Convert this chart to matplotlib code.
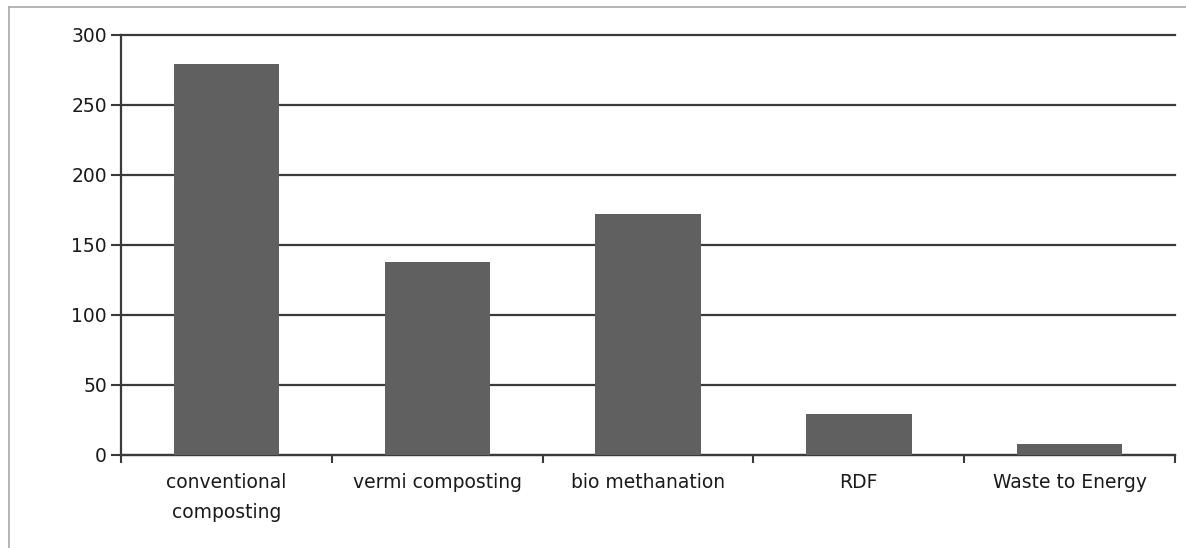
import matplotlib.pyplot as plt
from matplotlib.lines import Line2D

categories = ["conventional\ncomposting", "vermi composting", "bio methanation",
              "RDF", "Waste to Energy"]
values = [279, 138, 172, 29, 8]
yticks = [0, 50, 100, 150, 200, 250, 300]

plt.rcParams['font.family'] = ['DejaVu Sans']

fig = plt.figure(figsize=(11.86, 5.48), dpi=100)
ax = fig.add_axes([121 / 1186, 1 - 455 / 548, (1175 - 121) / 1186, (455 - 35) / 548])

x = list(range(len(categories)))
ax.bar(x, values, width=0.5, color="#606060", zorder=3)

ax.set_xlim(-0.5, len(categories) - 0.5)
ax.set_ylim(0, 300)
ax.set_yticks(yticks)
ax.yaxis.grid(True, color="#3a3a3a", linewidth=1.6, zorder=0, clip_on=False)
ax.set_axisbelow(True)

ax.set_xticks(x)
ax.set_xticklabels(categories, fontsize=13.5, color="#1a1a1a", linespacing=1.75)
ax.set_xticks([i - 0.5 for i in range(len(categories) + 1)], minor=True)
ax.tick_params(axis="x", which="major", length=0, pad=13)
ax.tick_params(axis="x", which="minor", length=6, width=1.5, color="#3a3a3a")
ax.tick_params(axis="y", length=7, width=1.5, color="#3a3a3a", labelsize=13.5,
               labelcolor="#1a1a1a", pad=3)

for s in ["top", "right"]:
    ax.spines[s].set_visible(False)
for s in ["left", "bottom"]:
    ax.spines[s].set_color("#3a3a3a")
    ax.spines[s].set_linewidth(1.6)

# page frame around the chart
fig.add_artist(Line2D([9 / 1186, 9 / 1186], [0, 1 - 7 / 548], color="#a8a8a8", lw=1.2))
fig.add_artist(Line2D([9 / 1186, 1], [1 - 7 / 548, 1 - 7 / 548], color="#a8a8a8", lw=1.2))

fig.savefig("out.png", dpi=100)
